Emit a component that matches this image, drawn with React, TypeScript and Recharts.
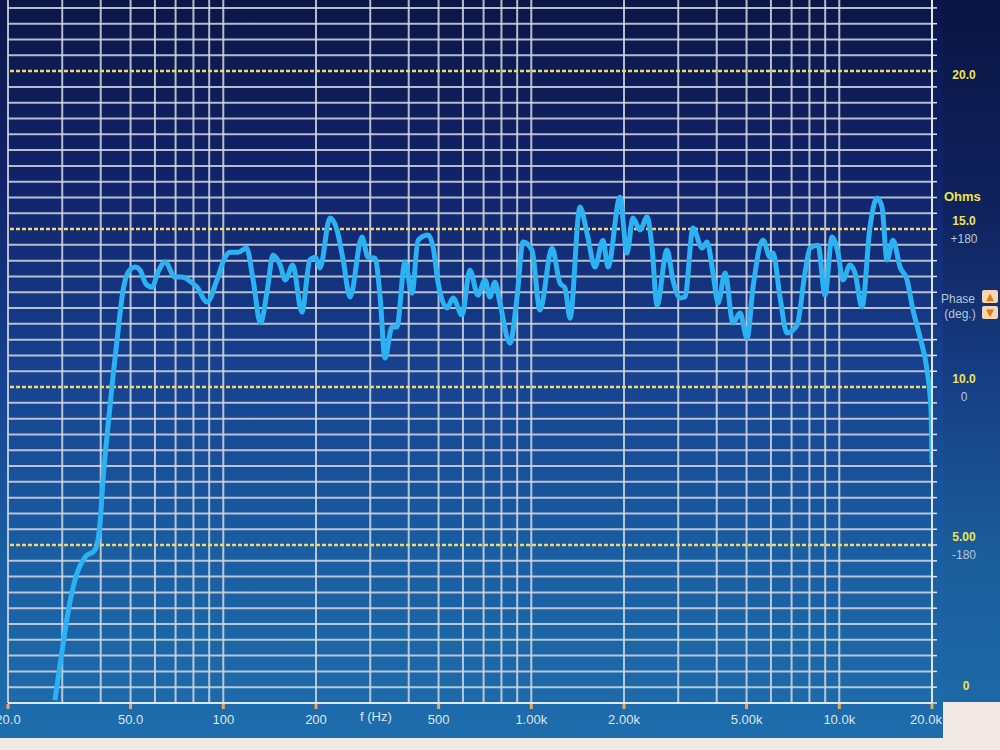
import React from "react";
import { LineChart, Line, XAxis, YAxis, ReferenceLine } from "recharts";

// impedance sweep
const freqs = [
  28.4, 29.9, 31.3, 33.5, 35.6, 38.3, 39.8, 40.7, 42.2, 43.9, 45.2, 47.3, 49.1, 51.7, 53.7, 56.1, 58.7,
  61.4, 64.7, 69.7, 73.4, 78, 82.2, 88.6, 95.4, 101, 105, 112, 119, 125, 132, 139, 145, 153, 159, 168,
  180, 191, 199, 206, 222, 234, 245, 258, 282, 295, 311, 323, 335, 353, 366, 389, 410, 429, 462, 480,
  498, 533, 557, 596, 632, 671, 708, 734, 762, 791, 853, 899, 940, 1005, 1067, 1168, 1239, 1287, 1336,
  1439, 1517, 1610, 1709, 1775, 1941, 2045, 2138, 2254, 2376, 2466, 2560, 2758, 2884, 3040, 3156, 3350,
  3584, 3720, 3890, 4040, 4257, 4518, 4762, 5018, 5248, 5656, 5958, 6094, 6420, 6764, 7290, 7740, 8036,
  8532, 8990, 9472, 9906, 10280, 10836, 11246, 11850, 12580, 13256, 13762, 14286, 14942, 15744, 16590,
  17352, 18284, 19266, 19852, 20000,
];

const ohms = [
  0.09, 1.58, 2.85, 4.11, 4.62, 4.84, 5.7, 7.06, 8.73, 10.38, 11.49, 13.07, 13.64, 13.8, 13.7, 13.26,
  13.16, 13.64, 13.96, 13.48, 13.48, 13.35, 13.16, 12.69, 13.39, 14.08, 14.27, 14.27, 14.4, 13.39, 12.03,
  13.07, 14.18, 13.86, 13.39, 13.86, 12.37, 14.02, 14.11, 13.77, 15.35, 14.97, 14.02, 12.85, 14.75,
  14.11, 14.08, 12.85, 10.92, 11.9, 11.9, 13.96, 12.97, 14.65, 14.81, 14.43, 13.32, 12.5, 12.82, 12.28,
  13.7, 12.91, 13.39, 12.85, 13.32, 12.66, 11.39, 12.85, 14.59, 14.34, 12.44, 14.4, 13.29, 13.13, 12.18,
  15.7, 14.87, 13.8, 14.65, 13.8, 16.01, 14.24, 15.35, 14.97, 15.38, 14.43, 12.59, 14.34, 13.39, 12.82,
  12.85, 15.03, 14.4, 14.59, 13.61, 12.66, 13.61, 12.03, 12.34, 11.55, 13.16, 14.65, 14.11, 14.24,
  12.85, 11.71, 11.96, 13.61, 14.4, 14.49, 12.91, 14.75, 14.24, 13.39, 13.86, 13.61, 12.53, 15.06,
  15.98, 15.7, 14.02, 14.65, 13.8, 13.39, 12.44, 11.58, 10.54, 9.27, 7.6,
];

const freqTicks = [20, 50, 100, 200, 500, 1000, 2000, 5000, 10000, 20000];
const freqLabels = ["20.0", "50.0", "100", "200", "500", "1.00k", "2.00k", "5.00k", "10.0k", "20.0k"];

const ohmTicks = [0, 5, 10, 15, 20];
const ohmLabels = ["0", "5.00", "10.0", "15.0", "20.0"];
const phaseLabels: Record<number, string> = { 5: "-180", 10: "0", 15: "+180" };

// log grid: 1..9 in each decade
const gridFreqs: number[] = [];
[10, 100, 1000].forEach((dec) => {
  [2, 3, 4, 5, 6, 7, 8, 9, 10].forEach((m) => gridFreqs.push(m * dec));
});
gridFreqs.push(20000);

// half-ohm steps for grid and small axis ticks
const halfOhms: number[] = [];
for (let i = 0; i <= 44; i++) halfOhms.push(i / 2);
const gridOhms = halfOhms.filter((o) => o > 0 && o % 5 !== 0);

const data = freqs.map((f, i) => ({ f, z: ohms[i] }));

const FONT = "'Liberation Sans', Arial, sans-serif";

function FreqTick(props: any) {
  const { x, y, payload } = props;
  const i = freqTicks.indexOf(payload.value);
  const dx = payload.value === 20000 ? -6 : 0;
  return (
    <g>
      <line x1={x} x2={x} y1={y - 7} y2={y - 2} stroke="#e8a860" strokeWidth={3} />
      <text x={x + dx} y={y + 13} textAnchor="middle" fill="#dce6f0" fontSize={13} fontFamily={FONT}>
        {freqLabels[i]}
      </text>
    </g>
  );
}

function OhmTick(props: any) {
  const { x, y, payload } = props;
  const v = payload.value;
  const i = ohmTicks.indexOf(v);
  if (i < 0) return <g />;
  const cx = x + 25;
  if (v === 20) {
    return (
      <text x={cx} y={y + 8} textAnchor="middle" fill="#ece450" fontSize={12} fontWeight="bold" fontFamily={FONT}>
        {ohmLabels[i]}
      </text>
    );
  }
  if (v === 0) {
    return (
      <text x={cx + 2} y={y - 13} textAnchor="middle" fill="#ece450" fontSize={12} fontWeight="bold" fontFamily={FONT}>
        {ohmLabels[i]}
      </text>
    );
  }
  return (
    <g>
      <text x={cx} y={y - 4} textAnchor="middle" fill="#ece450" fontSize={12} fontWeight="bold" fontFamily={FONT}>
        {ohmLabels[i]}
      </text>
      <text x={cx} y={y + 14} textAnchor="middle" fill="#b8c6d8" fontSize={12} fontFamily={FONT}>
        {phaseLabels[v]}
      </text>
    </g>
  );
}

const btn: React.CSSProperties = {
  position: "absolute",
  left: 982,
  width: 16,
  height: 13,
  background: "#f6d6b0",
  color: "#e07818",
  fontSize: 10,
  lineHeight: "13px",
  textAlign: "center",
  borderRadius: 2,
  fontFamily: "DejaVu Sans",
};

export default function App() {
  return (
    <div
      style={{
        position: "absolute",
        left: 0,
        top: 0,
        width: 1000,
        height: 750,
        background: "#f2e8e4",
        overflow: "hidden",
        fontFamily: FONT,
      }}
    >
      <div
        style={{
          position: "absolute",
          left: 0,
          top: 0,
          width: 943,
          height: 738,
          background: "linear-gradient(180deg, #0b1648 0%, #11236a 25%, #17418e 50%, #1a5ea2 75%, #1e6dac 100%)",
        }}
      />
      <div
        style={{
          position: "absolute",
          left: 943,
          top: 0,
          width: 57,
          height: 702,
          background: "linear-gradient(180deg, #0a1442 0%, #10225e 30%, #173f86 55%, #1b5e9c 80%, #1d68a6 100%)",
        }}
      />
      <div style={{ position: "absolute", left: 0, top: 0 }}>
        <LineChart width={1000} height={738} data={data} margin={{ top: 0, right: 0, bottom: 0, left: 8 }}>
          <XAxis
            dataKey="f"
            type="number"
            scale="log"
            domain={[20, 20000]}
            ticks={freqTicks}
            tick={<FreqTick />}
            tickLine={false}
            axisLine={{ stroke: "#dfe6ee", strokeWidth: 2 }}
            height={35}
            allowDataOverflow
          />
          <YAxis
            orientation="right"
            type="number"
            domain={[0, 22.25]}
            ticks={halfOhms}
            interval={0}
            tick={<OhmTick />}
            tickLine={{ stroke: "#dfe6ee", strokeWidth: 1.5 }}
            tickSize={5}
            axisLine={{ stroke: "#dfe6ee", strokeWidth: 2 }}
            width={68}
            allowDataOverflow
          />
          {gridFreqs.map((f) => (
            <ReferenceLine key={"v" + f} x={f} stroke="#d4d8de" strokeOpacity={0.85} strokeWidth={2} />
          ))}
          {gridOhms.map((o) => (
            <ReferenceLine key={"h" + o} y={o} stroke="#d4d8de" strokeOpacity={0.85} strokeWidth={2} />
          ))}
          {ohmTicks.slice(1).map((o) => (
            <ReferenceLine key={"m" + o} y={o} stroke="#efd870" strokeWidth={2.5} strokeDasharray="4 2" />
          ))}
          <Line
            type="monotone"
            dataKey="z"
            stroke="#2cb2f2"
            strokeWidth={5}
            dot={false}
            strokeLinejoin="round"
            isAnimationActive={false}
          />
        </LineChart>
      </div>
      <div style={{ position: "absolute", left: 360, top: 709, color: "#dce6f0", fontSize: 13 }}>f (Hz)</div>
      <div style={{ position: "absolute", left: 944, top: 189, color: "#ece450", fontSize: 13, fontWeight: "bold" }}>
        Ohms
      </div>
      <div style={{ position: "absolute", left: 941, top: 292, color: "#b8c6d8", fontSize: 12, lineHeight: "15px" }}>
        Phase
        <br />
        &nbsp;(deg.)
      </div>
      <div style={{ ...btn, top: 290 }}>▲</div>
      <div style={{ ...btn, top: 306 }}>▼</div>
    </div>
  );
}
